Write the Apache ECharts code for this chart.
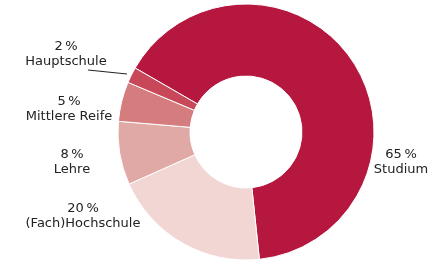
<!DOCTYPE html>
<html>
<head>
<meta charset="utf-8">
<script src="https://cdn.jsdelivr.net/npm/echarts@6/dist/echarts.min.js"></script>
<style>
html,body{margin:0;padding:0;background:#fff;}
#chart{width:441px;height:263px;}
</style>
</head>
<body>
<div id="chart"></div>
<script>
// Abschlüsse
var categories = ['Studium', '(Fach)Hochschule', 'Lehre', 'Mittlere Reife', 'Hauptschule'];
var values = [65, 20, 8, 5, 2];
var colors = ['#b5173f', '#f1d6d3', '#e0a9a6', '#d47c7e', '#c8485a'];
// Label-Positionen (Mittelpunkt des Textes)
var labelPos = [[401, 162], [83, 216], [72, 162], [69, 109], [66, 54]];

var chart = echarts.init(document.getElementById('chart'));

var data = [];
for (var i = 0; i < categories.length; i++) {
    data.push({
        name: categories[i],
        value: values[i],
        itemStyle: { color: colors[i] },
        labelLine: { show: i === 4 }
    });
}

var option = {
    backgroundColor: '#fff',
    animation: false,
    series: [{
        type: 'pie',
        center: [246, 132],
        radius: [56, 128],
        startAngle: 150,
        clockwise: true,
        label: {
            show: true,
            position: 'outside',
            color: '#222',
            fontSize: 13,
            lineHeight: 15,
            fontFamily: 'DejaVu Sans, sans-serif',
            align: 'center',
            overflow: 'none',
            formatter: function (p) {
                return p.value + '\u2009%\n' + p.name;
            }
        },
        labelLine: {
            lineStyle: { color: '#222', width: 1 }
        },
        labelLayout: function (params) {
            var pos = labelPos[params.dataIndex];
            var res = { x: pos[0], y: pos[1], align: 'center', verticalAlign: 'middle' };
            if (params.dataIndex === 4 && params.labelLinePoints) {
                res.labelLinePoints = [[127, 74], [88, 70], [88, 70]];
            }
            return res;
        },
        itemStyle: {
            borderColor: '#fff',
            borderWidth: 1
        },
        emphasis: { disabled: true },
        data: data
    }]
};

chart.setOption(option);
</script>
</body>
</html>
